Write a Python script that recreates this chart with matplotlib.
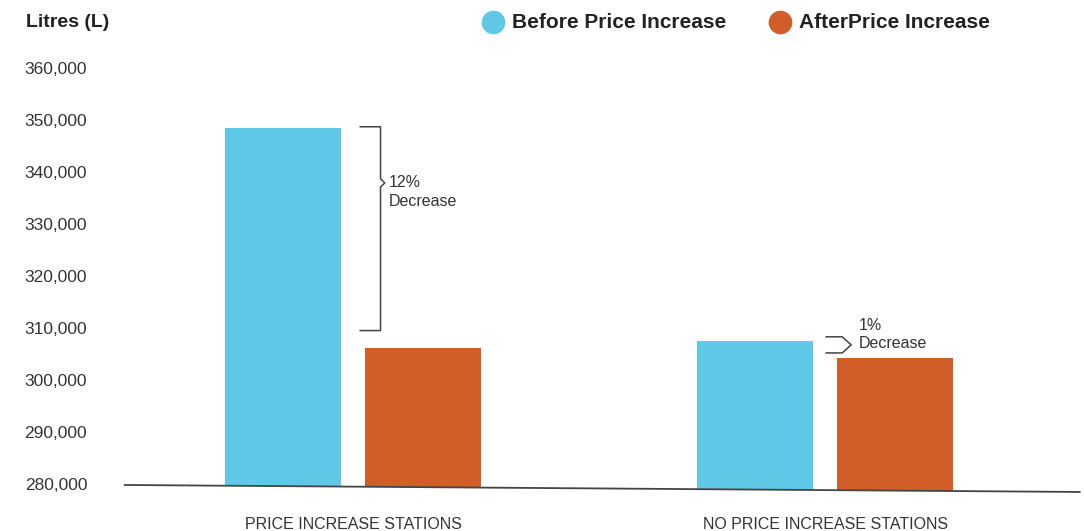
import numpy as np
import matplotlib
matplotlib.use("Agg")
import matplotlib.pyplot as plt
from matplotlib.lines import Line2D

categories = ["PRICE INCREASE STATIONS", "NO PRICE INCREASE STATIONS"]
series_names = ["Before Price Increase", "AfterPrice Increase"]
before = [348500, 307450]
after = [306100, 304300]
yticks = [280000, 290000, 300000, 310000, 320000, 330000, 340000, 350000, 360000]
notes = ["12%\nDecrease", "1%\nDecrease"]
# bracket extents (top, point, bottom) as drawn
brace1 = [348700, 337900, 309500]
brace2 = [308300, 306750, 305200]

BLUE = "#5EC8E6"
ORANGE = "#D15E28"
TEXT = "#333333"

plt.rcParams["font.family"] = ["Liberation Sans", "DejaVu Sans"]

fig = plt.figure(figsize=(10.84, 5.31), dpi=100)
ax = fig.add_axes([0.115, 0.069, 0.881, 0.8225])
ax.set_xlim(-0.484, 1.539)
ax.set_ylim(278000, 362000)

x = np.arange(len(categories))
w = 0.246
off = 0.148

# slanted baseline, in axes fraction
base_ax = (0.0215, 0.0055)
def base_at(xd):
    xa = (xd - ax.get_xlim()[0]) / (ax.get_xlim()[1] - ax.get_xlim()[0])
    ya = base_ax[0] + (base_ax[1] - base_ax[0]) * xa
    lo, hi = ax.get_ylim()
    return lo + ya * (hi - lo)

for xi, b, a in zip(x, before, after):
    for xc, v, c in [(xi - off, b, BLUE), (xi + off, a, ORANGE)]:
        bot = base_at(xc)
        ax.bar(xc, v - bot, bottom=bot, width=w, color=c, zorder=2)

ax.plot([0, 1], list(base_ax), transform=ax.transAxes, color="#444444",
        lw=1.3, zorder=3, clip_on=False)

# bracket 1: tall curly brace right of first blue bar
bx0 = x[0] + 0.015
bx1 = x[0] + 0.058
top, mid, bot = brace1
ax.plot([bx0, bx1, bx1, bx1 + 0.009, bx1, bx1, bx0],
        [top, top, mid + 800, mid, mid - 800, bot, bot],
        color="#444444", lw=1.1, zorder=4)
ax.text(bx1 + 0.018, mid + 1500, notes[0], ha="left", va="top", fontsize=11.5,
        color=TEXT, linespacing=1.3)

# bracket 2: small sideways brace between the second pair
cx0 = x[1] + 0.002
cx1 = x[1] + 0.036
cx2 = x[1] + 0.055
top, cm, bot = brace2
ax.plot([cx0, cx1, cx2, cx1, cx0], [top, top, cm, bot, bot],
        color="#444444", lw=1.1, zorder=4)
ax.text(cx2 + 0.017, cm + 2000, notes[1], ha="left", va="center", fontsize=11.5,
        color=TEXT, linespacing=1.3)

ax.set_yticks(yticks)
ax.set_yticklabels([f"{v:,}" for v in yticks], fontsize=12.5, color=TEXT)
ax.set_xticks(x)
ax.set_xticklabels(categories, fontsize=11.5, color=TEXT)
ax.tick_params(axis="y", length=0, pad=27)
ax.tick_params(axis="x", length=0, pad=16)
for s in ax.spines.values():
    s.set_visible(False)

fig.text(0.024, 0.958, "Litres (L)", fontsize=14, fontweight="bold",
         color="#222222", va="center", ha="left")

# legend drawn by hand: circle + bold label
leg_circle_x = [493 / 1084, 780 / 1084]
leg_text_x = [512 / 1084, 799 / 1084]
for cxl, txl, c, name in zip(leg_circle_x, leg_text_x, (BLUE, ORANGE), series_names):
    fig.add_artist(Line2D([cxl], [0.958], marker="o", ls="", ms=16, color=c,
                          transform=fig.transFigure))
    fig.text(txl, 0.958, name, fontsize=15, fontweight="bold", color="#222222",
             va="center", ha="left")

fig.savefig("out.png", dpi=100, facecolor="white")
